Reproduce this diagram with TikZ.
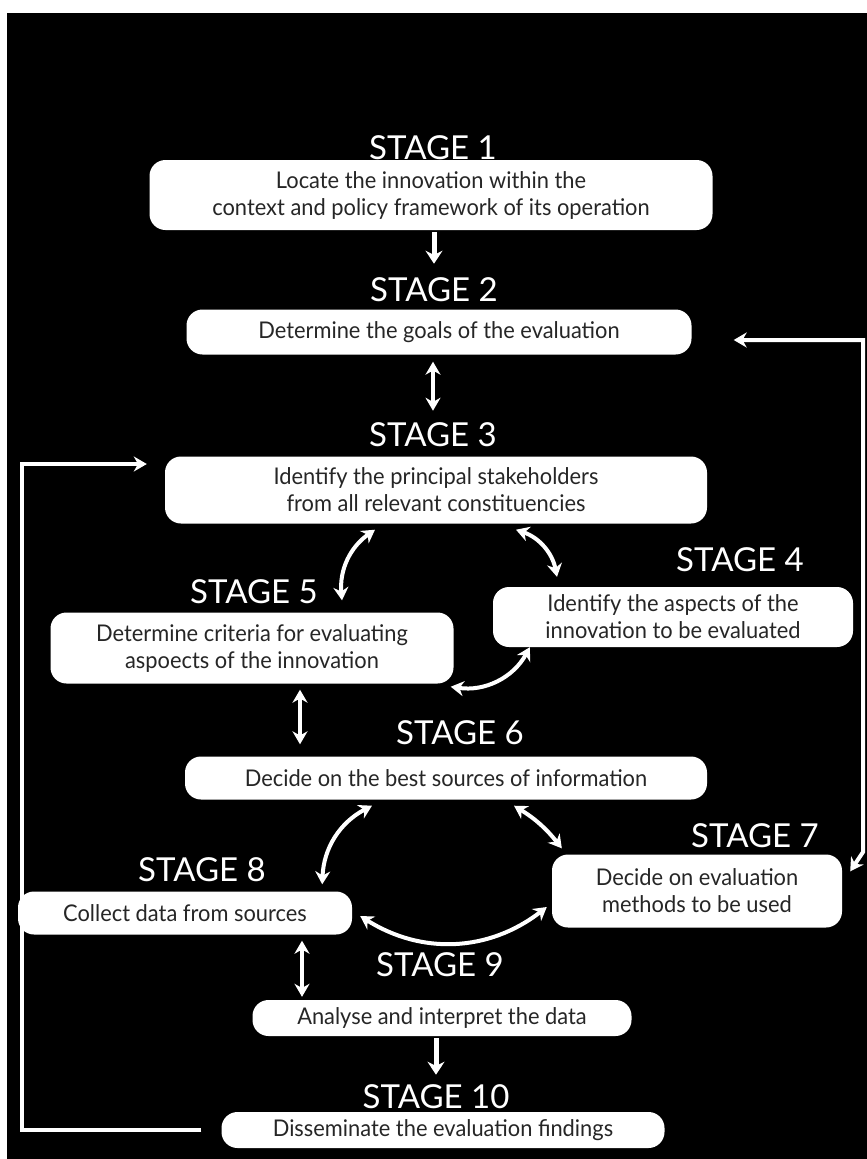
\documentclass[tikz,border=0pt]{standalone}
\usepackage{fontspec}
\newfontfamily\boxfont{Lato}[FakeStretch=0.95]
\newfontfamily\stagefont{Lato}
\usetikzlibrary{arrows.meta}

\begin{document}
\begin{tikzpicture}[
  x=1pt, y=-1pt,
  box/.style 2 args={fill=white, rounded corners=16pt, align=center,
                     minimum width=#1, minimum height=#2, inner sep=0pt,
                     text=black!85, font=\boxfont\fontsize{23}{27}\selectfont},
  stage/.style={text=white, inner sep=0pt, font=\stagefont\fontsize{33}{36}\selectfont},
  lk/.style={draw=white, line width=4pt,
             {Stealth[length=13pt,width=15pt]}-{Stealth[length=13pt,width=15pt]}},
  one/.style={draw=white, line width=5pt, -{Stealth[length=13pt,width=17pt]}},
  fb/.style={draw=white, line width=4pt, line join=miter}
]
  \useasboundingbox (0,0) rectangle (867,1159);
  \fill[black] (7,13) rectangle (867,1159);

  \node[stage] (S1) at (433,148) {STAGE 1};
  \node[box={563pt}{70pt}] (B1) at (431,195)
    {Locate the innovation within the\\context and policy framework of its operation};
  \node[stage] (S2) at (434,290) {STAGE 2};
  \node[box={505pt}{45pt}] (B2) at (439,332) {Determine the goals of the evaluation};
  \node[stage] (S3) at (433,435) {STAGE 3};
  \node[box={542pt}{67pt}] (B3) at (436,490)
    {Identify the principal stakeholders\\from all relevant constituencies};
  \node[stage] (S4) at (740,560) {STAGE 4};
  \node[box={360pt}{60pt}] (B4) at (673,617)
    {Identify the aspects of the\\innovation to be evaluated};
  \node[stage] (S5) at (254,592) {STAGE 5};
  \node[box={403pt}{71pt}] (B5) at (252,648)
    {Determine criteria for evaluating\\aspoects of the innovation};
  \node[stage] (S6) at (460,733) {STAGE 6};
  \node[box={522pt}{43pt}] (B6) at (446,778) {Decide on the best sources of information};
  \node[stage] (S7) at (755,836) {STAGE 7};
  \node[box={290pt}{73pt}] (B7) at (697,891)
    {\fontsize{23}{29}\selectfont Decide on evaluation\\methods to be used};
  \node[stage] (S8) at (202,870) {STAGE 8};
  \node[box={334pt}{43pt}] (B8) at (185,913) {Collect data from sources};
  \node[stage] (S9) at (440,965) {STAGE 9};
  \node[box={379pt}{36pt}] (B9) at (442,1018) {Analyse and interpret the data};
  \node[stage] (S10) at (436,1097) {STAGE 10};
  \node[box={443pt}{36pt}] (B10) at (443,1130) {Disseminate the evaluation findings};

  \draw[one, shorten <=2pt, shorten >=14pt] (S2.north |- B1.south) -- (S2.north);
  \draw[lk, shorten <=7pt, shorten >=12pt] (S3.north |- B2.south) -- (S3.north);
  \draw[lk] ([xshift=-61pt,yshift=-6pt]B3.south) to[bend right=30] ([xshift=90pt,yshift=12pt]B5.north);
  \draw[lk] ([xshift=80pt,yshift=-6pt]B3.south) to[bend left=30] ([xshift=-116pt,yshift=10pt]B4.north);
  \draw[lk] ([xshift=-3pt,yshift=-3pt]B5.south east) to[bend right=35] ([xshift=37pt]B4.south west);
  \draw[lk, shorten >=12pt] ([xshift=48pt,yshift=-6pt]B5.south) -- ([xshift=48pt]B5.south |- B6.north);
  \draw[lk] ([xshift=-74pt,yshift=-6pt]B6.south) to[bend right=30] ([xshift=-30pt,yshift=7pt]B8.north east);
  \draw[lk] ([xshift=68pt,yshift=-6pt]B6.south) to[bend left=10] ([xshift=10pt,yshift=6pt]B7.north west);
  \draw[lk] ([xshift=8pt,yshift=-3pt]B8.east) to[bend right=35] ([xshift=-5pt,yshift=-16pt]B7.west);
  \draw[lk, shorten >=3pt] ([xshift=117pt,yshift=-6pt]B8.south) -- ([xshift=117pt]B8.south |- B9.north);
  \draw[one, shorten <=2pt, shorten >=10pt] (S10.north |- B9.south) -- (S10.north);

  \coordinate (L1) at (22,1130);
  \coordinate (L2) at (22,464);
  \draw[fb, -{Stealth[length=13pt,width=15pt]}] ([xshift=-20pt]B10.west) -- (L1) -- (L2)
    -- ([xshift=-18pt]B3.west |- L2);
  \coordinate (R1) at (863,340);
  \coordinate (R2) at (863,852);
  \draw[fb, {Stealth[length=13pt,width=15pt]}-{Stealth[length=13pt,width=15pt]}]
    ([xshift=42pt,yshift=-8pt]B2.east) -- (R1) -- (R2) -- ([xshift=8pt,yshift=-17pt]B7.north east);
\end{tikzpicture}
\end{document}
